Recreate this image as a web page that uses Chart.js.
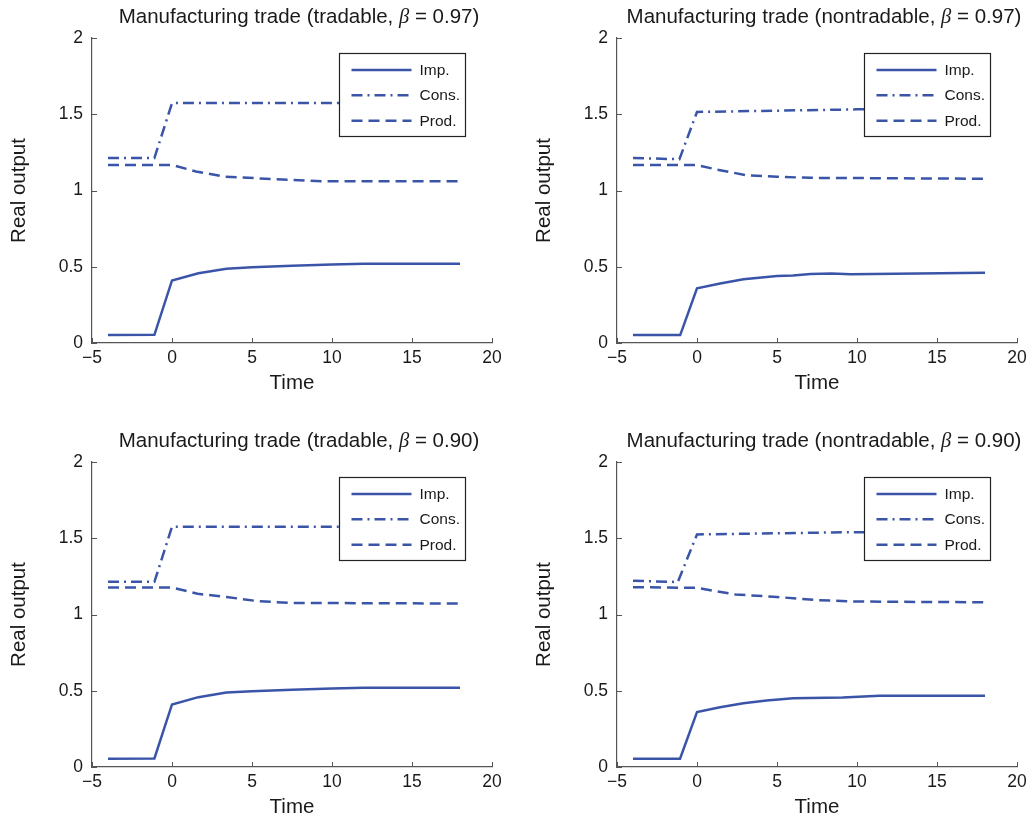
<!DOCTYPE html>
<html><head><meta charset="utf-8">
<script src="https://cdn.jsdelivr.net/npm/chart.js@4.4.1/dist/chart.umd.min.js"></script>
<style>
html,body{margin:0;padding:0;background:#fff;overflow:hidden;width:1035px;height:817px;}
canvas{position:absolute;}
</style></head><body>
<canvas id="c0" width="517" height="400" style="left:0px;top:0px"></canvas>
<canvas id="c1" width="510" height="400" style="left:525px;top:0px"></canvas>
<canvas id="c2" width="517" height="400" style="left:0px;top:424px"></canvas>
<canvas id="c3" width="510" height="400" style="left:525px;top:424px"></canvas>
<script>
// ---- labels ----
const titles = [
  "Manufacturing trade (tradable, β = 0.97)",
  "Manufacturing trade (nontradable, β = 0.97)",
  "Manufacturing trade (tradable, β = 0.90)",
  "Manufacturing trade (nontradable, β = 0.90)"
];
const seriesNames = ["Imp.", "Cons.", "Prod."];
const xAxisTitle = "Time";
const yAxisTitle = "Real output";
const xTickValues = [-5, 0, 5, 10, 15, 20];
const xTickLabels = ["\u22125", "0", "5", "10", "15", "20"];
const yTickValues = [0, 0.5, 1, 1.5, 2];
const yTickLabels = ["0", "0.5", "1", "1.5", "2"];

// ---- panel 1: tradable, beta 0.97 ----
const p1ImpX  = [-4, -1.1, 0, 1.65, 3.4, 5, 7.5, 10, 12, 18];
const p1ImpY  = [0.052, 0.054, 0.41, 0.457, 0.487, 0.497, 0.507, 0.515, 0.519, 0.519];
const p1ConsX = [-4, -1.1, 0, 18];
const p1ConsY = [1.213, 1.213, 1.573, 1.573];
const p1ProdX = [-4, 0, 1.5, 3.3, 6.4, 9.5, 18];
const p1ProdY = [1.167, 1.167, 1.125, 1.09, 1.075, 1.06, 1.06];

// ---- panel 2: nontradable, beta 0.97 ----
const p2ImpX  = [-4, -1.05, 0, 1.45, 2.9, 5, 6, 7.1, 8.4, 9.6, 18];
const p2ImpY  = [0.052, 0.052, 0.359, 0.39, 0.418, 0.44, 0.443, 0.452, 0.455, 0.451, 0.461];
const p2ConsX = [-4, -1.1, 0, 10, 18];
const p2ConsY = [1.213, 1.205, 1.515, 1.532, 1.535];
const p2ProdX = [-4, 0, 1.25, 3.1, 5, 7.1, 18];
const p2ProdY = [1.167, 1.167, 1.137, 1.10, 1.09, 1.083, 1.077];

// ---- panel 3: tradable, beta 0.90 ----
const p3ImpX  = [-4, -1.1, 0, 1.65, 3.4, 5, 7.5, 10, 12, 18];
const p3ImpY  = [0.054, 0.056, 0.41, 0.458, 0.489, 0.497, 0.507, 0.514, 0.52, 0.52];
const p3ConsX = [-4, -1.1, 0, 18];
const p3ConsY = [1.214, 1.214, 1.575, 1.575];
const p3ProdX = [-4, 0, 1.6, 3.4, 5.4, 7.5, 18];
const p3ProdY = [1.177, 1.177, 1.136, 1.115, 1.087, 1.076, 1.072];

// ---- panel 4: nontradable, beta 0.90 ----
const p4ImpX  = [-4, -1.06, 0, 1.44, 2.9, 4.35, 6, 9.1, 11.4, 18];
const p4ImpY  = [0.054, 0.054, 0.36, 0.392, 0.418, 0.436, 0.451, 0.455, 0.467, 0.467];
const p4ConsX = [-4, -1.2, 0, 10, 18];
const p4ConsY = [1.221, 1.213, 1.525, 1.54, 1.54];
const p4ProdX = [-4, 0, 2.4, 5, 7.5, 10, 18];
const p4ProdY = [1.179, 1.175, 1.131, 1.115, 1.094, 1.085, 1.08];

const panels = [
  [[p1ImpX, p1ImpY], [p1ConsX, p1ConsY], [p1ProdX, p1ProdY]],
  [[p2ImpX, p2ImpY], [p2ConsX, p2ConsY], [p2ProdX, p2ProdY]],
  [[p3ImpX, p3ImpY], [p3ConsX, p3ConsY], [p3ProdX, p3ProdY]],
  [[p4ImpX, p4ImpY], [p4ConsX, p4ConsY], [p4ProdX, p4ProdY]]
];

// ---- styles ----
const LINE = '#3a55a8';
const AXIS = '#555555';
const TEXT = '#1a1a1a';
const SANS = "'Liberation Sans', Arial, Helvetica, sans-serif";
const dashes = [[], [11, 5, 2, 5], [11, 6]];
const rightPads = [25, 18, 25, 18];

const pairs = (xs, ys) => xs.map((x, i) => ({x: x, y: ys[i]}));

const titlePlugin = {
  id: 'mtitle',
  afterDraw(chart) {
    const ctx = chart.ctx, ca = chart.chartArea;
    const t = chart.options.plugins.mtitle.text;
    const k = t.indexOf('β');
    const a = t.slice(0, k), b = 'β', c = t.slice(k + 1);
    const fs = "20.5px " + SANS, fb = "italic 20.5px 'Liberation Serif', 'DejaVu Serif', serif";
    ctx.save();
    ctx.font = fs; const wa = ctx.measureText(a).width, wc = ctx.measureText(c).width;
    ctx.font = fb; const wb = ctx.measureText(b).width;
    const total = wa + wb + wc;
    let x = (ca.left + ca.right) / 2 + 7 - total / 2;
    const y = ca.top - 15.5;
    ctx.fillStyle = TEXT; ctx.textBaseline = 'alphabetic'; ctx.textAlign = 'left';
    ctx.font = fs; ctx.fillText(a, x, y); x += wa;
    ctx.font = fb; ctx.fillText(b, x, y); x += wb;
    ctx.font = fs; ctx.fillText(c, x, y);
    ctx.restore();
  }
};

const tickPlugin = {
  id: 'inticks',
  afterDraw(chart) {
    const ctx = chart.ctx, ca = chart.chartArea;
    const xs = chart.scales.x, ys = chart.scales.y;
    ctx.save();
    ctx.strokeStyle = AXIS; ctx.lineWidth = 1;
    ctx.beginPath();
    xTickValues.forEach(v => { const p = Math.round(xs.getPixelForValue(v)) + 0.5; ctx.moveTo(p, ca.bottom); ctx.lineTo(p, ca.bottom - 5); });
    yTickValues.forEach(v => { const p = Math.round(ys.getPixelForValue(v)) + 0.5; ctx.moveTo(ca.left, p); ctx.lineTo(ca.left + 5, p); });
    ctx.stroke();
    ctx.restore();
  }
};

const legendPlugin = {
  id: 'boxlegend',
  afterDatasetsDraw(chart) {
    const ctx = chart.ctx, ca = chart.chartArea;
    const bx = Math.round(ca.left + 247) + 0.5, by = Math.round(ca.top + 14.5) + 0.5, bw = 126, bh = 83;
    ctx.save();
    ctx.fillStyle = '#ffffff';
    ctx.fillRect(bx, by, bw, bh);
    ctx.strokeStyle = '#222222'; ctx.lineWidth = 1.2;
    ctx.strokeRect(bx, by, bw, bh);
    const rows = [16.5, 41.8, 67.3];
    chart.data.datasets.forEach((ds, i) => {
      const yy = by + rows[i];
      ctx.strokeStyle = ds.borderColor; ctx.lineWidth = ds.borderWidth;
      ctx.setLineDash(ds.borderDash || []);
      ctx.beginPath(); ctx.moveTo(bx + 12, yy); ctx.lineTo(bx + 72, yy); ctx.stroke();
      ctx.setLineDash([]);
      ctx.fillStyle = TEXT; ctx.font = "15.5px " + SANS; ctx.textBaseline = 'middle'; ctx.textAlign = 'left';
      ctx.fillText(ds.label, bx + 80, yy + 0.5);
    });
    ctx.restore();
  }
};

panels.forEach((panel, pi) => {
  const ctx = document.getElementById('c' + pi).getContext('2d');
  new Chart(ctx, {
    type: 'line',
    data: {
      datasets: panel.map((s, si) => ({
        label: seriesNames[si],
        data: pairs(s[0], s[1]),
        borderColor: LINE,
        backgroundColor: LINE,
        borderWidth: 2.5,
        borderDash: dashes[si],
        borderCapStyle: 'butt',
        pointRadius: 0,
        tension: 0,
        fill: false
      }))
    },
    options: {
      responsive: false,
      devicePixelRatio: 1,
      animation: false,
      events: [],
      layout: {padding: {top: 38, right: rightPads[pi], left: 0, bottom: 0}},
      plugins: {
        legend: {display: false},
        tooltip: {enabled: false},
        title: {display: false},
        mtitle: {text: titles[pi]}
      },
      scales: {
        x: {
          type: 'linear', min: -5, max: 20,
          afterFit: s => { s.height = 57; },
          afterBuildTicks: s => { s.ticks = xTickValues.map(v => ({value: v})); },
          grid: {display: false, drawTicks: false},
          border: {display: true, color: AXIS, width: 1.2},
          ticks: {
            autoSkip: false, maxRotation: 0, padding: 5, color: TEXT,
            font: {size: 17.5, family: SANS},
            callback: (v) => xTickLabels[xTickValues.indexOf(v)]
          },
          title: {display: true, text: xAxisTitle, color: TEXT, font: {size: 20.5, family: SANS}, padding: {top: 0, bottom: 4.7}}
        },
        y: {
          type: 'linear', min: 0, max: 2,
          afterFit: s => { s.width = 92; },
          afterBuildTicks: s => { s.ticks = yTickValues.map(v => ({value: v})); },
          grid: {display: false, drawTicks: false},
          border: {display: true, color: AXIS, width: 1.2},
          ticks: {
            autoSkip: false, padding: 9, color: TEXT,
            font: {size: 17.5, family: SANS},
            callback: (v) => yTickLabels[yTickValues.indexOf(v)]
          },
          title: {display: true, text: yAxisTitle, color: TEXT, font: {size: 20.5, family: SANS}, padding: {top: 7.5, bottom: 0}}
        }
      }
    },
    plugins: [legendPlugin, tickPlugin, titlePlugin]
  });
});
</script>
</body></html>
